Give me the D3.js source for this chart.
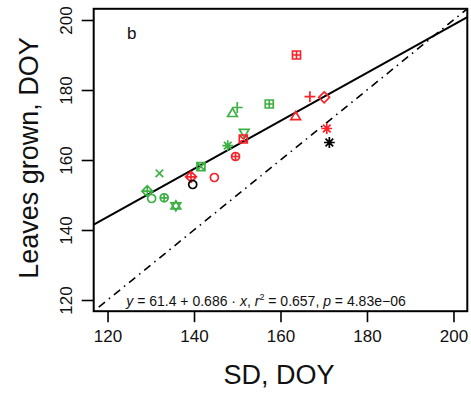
<!DOCTYPE html>
<html><head><meta charset="utf-8">
<script src="https://cdn.jsdelivr.net/npm/d3@7/dist/d3.min.js"></script>
<style>body{margin:0;background:#fff;} svg{display:block;font-family:"Liberation Sans",Arial,sans-serif;}</style>
</head><body>
<script>
// ---- data ----
const sdValues   = [163.7, 166.8, 170.1, 163.5, 170.7, 171.3, 150.0, 148.9, 157.4, 151.6, 151.4, 147.8, 149.6, 141.6, 144.7, 139.3, 139.7, 132.0, 129.2, 130.2, 133.1, 135.8];
const leafValues = [190.0, 178.1, 177.9, 172.4, 169.0, 165.0, 175.0, 173.3, 176.0, 167.9, 166.0, 164.1, 161.0, 158.1, 155.0, 155.2, 153.0, 156.2, 151.1, 149.0, 149.2, 146.9];
const groups     = ["red","red","red","red","red","black","green","green","green","green","red","green","red","green","red","red","black","green","green","green","green","green"];
const symbols    = ["sqplus","plus","diamond","triangle","asterisk","asterisk","plus","triangle","sqplus","triangleDown","sqcross","asterisk","circplus","sqcross","circle","diamplus","circle","cross","diamplus","circle","circplus","david"];
const xTicks = [120, 140, 160, 180, 200];
const yTicks = [120, 140, 160, 180, 200];
const fitIntercept = 61.4, fitSlope = 0.686;

// ---- layout ----
const W = 471, H = 396;
const x = d3.scaleLinear().domain([116.8, 203.2]).range([93.7, 467.3]);
const y = d3.scaleLinear().domain([116.8, 203.2]).range([311.2, 8.8]);
const color = d3.scaleOrdinal().domain(["red","green","black"]).range(["#f8232a","#3cb043","#000000"]);

const svg = d3.select("body").append("svg").attr("width", W).attr("height", H);
const clipId = "clipPlot";
svg.append("clipPath").attr("id", clipId).append("rect")
  .attr("x", x.range()[0]).attr("y", y.range()[1])
  .attr("width", x.range()[1]-x.range()[0]).attr("height", y.range()[0]-y.range()[1]);

const plot = svg.append("g").attr("clip-path", `url(#${clipId})`);
const [xd0, xd1] = x.domain();
// 1:1 line
plot.append("line")
  .attr("x1", x(xd0)).attr("y1", y(xd0)).attr("x2", x(xd1)).attr("y2", y(xd1))
  .attr("stroke", "#000").attr("stroke-width", 1.6).attr("stroke-dasharray", "1.5,5,8,5");
// regression line
plot.append("line")
  .attr("x1", x(xd0)).attr("y1", y(fitIntercept + fitSlope*xd0))
  .attr("x2", x(xd1)).attr("y2", y(fitIntercept + fitSlope*xd1))
  .attr("stroke", "#000").attr("stroke-width", 2);

// symbols
function symbolPath(type, r) {
  const p = d3.path();
  const circle = (rr) => { p.moveTo(rr, 0); p.arc(0, 0, rr, 0, 2*Math.PI); };
  const plus = (rr) => { p.moveTo(-rr,0); p.lineTo(rr,0); p.moveTo(0,-rr); p.lineTo(0,rr); };
  const cross = (rr) => { p.moveTo(-rr,-rr); p.lineTo(rr,rr); p.moveTo(-rr,rr); p.lineTo(rr,-rr); };
  const square = (rr) => { p.rect(-rr,-rr,2*rr,2*rr); };
  const diamond = (rr) => { p.moveTo(0,-rr); p.lineTo(rr,0); p.lineTo(0,rr); p.lineTo(-rr,0); p.closePath(); };
  const tri = (rr, dir) => { const h = rr*1.15; p.moveTo(0, -dir*h); p.lineTo(rr*1.1, dir*h*0.6); p.lineTo(-rr*1.1, dir*h*0.6); p.closePath(); };
  switch (type) {
    case "circle": circle(r); break;
    case "plus": plus(r*1.35); break;
    case "cross": cross(r*0.95); break;
    case "asterisk": plus(r*1.35); cross(r*0.95); break;
    case "diamond": diamond(r*1.35); break;
    case "triangle": tri(r*1.1, 1); break;
    case "triangleDown": tri(r*1.1, -1); break;
    case "sqplus": square(r); plus(r); break;
    case "sqcross": square(r); cross(r); break;
    case "circplus": circle(r); plus(r); break;
    case "diamplus": diamond(r*1.35); plus(r*1.35); break;
    case "david": tri(r*1.1, 1); tri(r*1.1, -1); break;
  }
  return p.toString();
}
const pts = d3.range(sdValues.length);
svg.append("g").selectAll("path").data(pts).join("path")
  .attr("transform", i => `translate(${x(sdValues[i])},${y(leafValues[i])})`)
  .attr("d", i => symbolPath(symbols[i], 4))
  .attr("fill", "none")
  .attr("stroke", i => color(groups[i]))
  .attr("stroke-width", 1.7);

// frame
svg.append("rect")
  .attr("x", x.range()[0]).attr("y", y.range()[1])
  .attr("width", x.range()[1]-x.range()[0]).attr("height", y.range()[0]-y.range()[1])
  .attr("fill", "none").attr("stroke", "#000").attr("stroke-width", 2);

// axes
const xAxis = d3.axisBottom(x).tickValues(xTicks).tickSize(11).tickPadding(8).tickSizeOuter(0);
const gx = svg.append("g").attr("transform", `translate(0,${y.range()[0]})`).call(xAxis);
gx.select(".domain").remove();
gx.selectAll(".tick line").attr("stroke-width", 1.6);
gx.selectAll(".tick text").attr("font-size", 17).attr("font-family", "Liberation Sans, Arial, sans-serif").attr("fill", "#111");

const yAxis = d3.axisLeft(y).tickValues(yTicks).tickSize(12).tickPadding(0).tickSizeOuter(0);
const gy = svg.append("g").attr("transform", `translate(${x.range()[0]},0)`).call(yAxis);
gy.select(".domain").remove();
gy.selectAll(".tick line").attr("stroke-width", 1.6);
gy.selectAll(".tick text")
  .attr("font-size", 17).attr("font-family", "Liberation Sans, Arial, sans-serif").attr("fill", "#111")
  .attr("x", null).attr("dy", null)
  .attr("text-anchor", "middle")
  .attr("transform", "translate(-22,0) rotate(-90)");

// titles
svg.append("text").attr("x", 279).attr("y", 384).attr("text-anchor", "middle")
  .attr("font-size", 27).attr("fill", "#111").text("SD, DOY");
svg.append("text").attr("transform", "translate(38,158) rotate(-90)").attr("text-anchor", "middle")
  .attr("font-size", 27).attr("fill", "#111").text("Leaves grown, DOY");

// panel letter
svg.append("text").attr("x", 127).attr("y", 39).attr("font-size", 17).attr("fill", "#111").text("b");

// equation
const eq = svg.append("text").attr("x", 266).attr("y", 306).attr("text-anchor", "middle")
  .attr("font-size", 14).attr("fill", "#111");
eq.append("tspan").attr("font-style", "italic").text("y");
eq.append("tspan").text(` = ${fitIntercept} + ${fitSlope} \u00B7 `);
eq.append("tspan").attr("font-style", "italic").text("x");
eq.append("tspan").text(",  ");
eq.append("tspan").attr("font-style", "italic").text("r");
eq.append("tspan").attr("font-size", 9).attr("dy", -6).text("2");
eq.append("tspan").attr("dy", 6).text(" = 0.657,  ");
eq.append("tspan").attr("font-style", "italic").text("p");
eq.append("tspan").text(" = 4.83e\u221206");
</script>
</body></html>
